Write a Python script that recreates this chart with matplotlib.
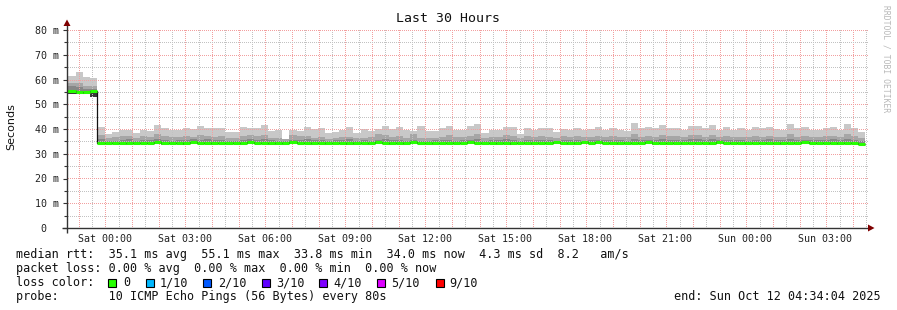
import numpy as np
import matplotlib
matplotlib.use("Agg")
import matplotlib.pyplot as plt
from matplotlib.patches import Polygon, Rectangle
from matplotlib.colors import to_rgba

# ---------------- data (ms) ----------------
# time axis: hours relative to Sat 00:00
t_start = -(1 + 25 / 60 + 56 / 3600)      # Fri 22:34:04
t_end = t_start + 30.0                    # Sun 04:34:04
step_h = 16 / 60                          # consolidation step
t_switch = -17.4 / 60                     # level change time

tick_hours = [0, 3, 6, 9, 12, 15, 18, 21, 24, 27]
tick_labels = ["Sat 00:00", "Sat 03:00", "Sat 06:00", "Sat 09:00", "Sat 12:00",
               "Sat 15:00", "Sat 18:00", "Sat 21:00", "Sun 00:00", "Sun 03:00"]
y_ticks = [0, 10, 20, 30, 40, 50, 60, 70, 80]
y_labels = ["0  ", "10 m", "20 m", "30 m", "40 m", "50 m", "60 m", "70 m", "80 m"]

median_ms = [55.2, 55.0, 55.0, 55.4,
             34.3, 34.3, 34.4, 34.4, 34.4, 34.3, 34.5, 34.4, 34.6, 34.4, 34.3, 34.4, 34.4, 34.6, 34.4, 34.4,
             34.3, 34.4, 34.5, 34.4, 34.4, 34.6, 34.4,
             34.4, 34.2, 34.3, 34.3, 34.7, 34.4, 34.5, 34.4, 34.4, 34.3, 34.5, 34.4, 34.4, 34.3, 34.4, 34.3,
             34.6, 34.5, 34.4, 34.4, 34.3, 34.7, 34.4, 34.4, 34.4, 34.3, 34.5, 34.4, 34.4,
             34.6, 34.5, 34.4, 34.5, 34.3, 34.4, 34.3, 34.5, 34.4, 34.3, 34.4, 34.4, 34.6, 34.4, 34.4, 34.3,
             34.7, 34.4, 34.6, 34.4, 34.5, 34.4, 34.4, 34.4, 34.5, 34.6, 34.3, 34.4, 34.5,
             34.5, 34.3, 34.4, 34.5, 34.4, 34.3, 34.6, 34.4, 34.4, 34.4, 34.3, 34.4, 34.5, 34.4, 34.4, 34.3,
             34.5, 34.4, 34.6, 34.4, 34.5, 34.4, 34.5, 34.4, 34.4, 34.5, 34.0]

ping_min = [54.3, 54.3, 54.2, 52.8,
            33.8, 33.7, 33.8, 33.8, 33.7, 33.8, 33.8, 33.8, 33.9, 33.7, 33.8, 33.8, 33.7, 33.9, 33.8, 33.8,
            33.7, 33.8, 33.8, 33.8, 33.7, 33.9, 33.8,
            33.8, 33.6, 33.7, 33.7, 33.8, 33.8, 33.8, 33.7, 33.8, 33.7, 33.8, 33.8, 33.7, 33.7, 33.8, 33.7,
            33.8, 33.8, 33.7, 33.8, 33.7, 33.8, 33.8, 33.8, 33.7, 33.7, 33.8, 33.8, 33.8,
            33.9, 33.8, 33.8, 33.8, 33.7, 33.8, 33.7, 33.8, 33.8, 33.7, 33.8, 33.8, 33.8, 33.8, 33.7, 33.7,
            33.8, 33.8, 33.8, 33.8, 33.8, 33.7, 33.8, 33.8, 33.8, 33.8, 33.7, 33.8, 33.8,
            33.8, 33.7, 33.8, 33.8, 33.8, 33.7, 33.8, 33.8, 33.8, 33.8, 33.7, 33.8, 33.8, 33.8, 33.8, 33.7,
            33.8, 33.8, 33.8, 33.8, 33.8, 33.8, 33.8, 33.7, 33.8, 33.8, 33.6]

ping_q2 = [57.2, 56.9, 56.0, 56.3,
           35.8, 35.2, 35.3, 35.6, 35.9, 35.2, 35.6, 35.4, 36.0, 35.6, 35.3, 35.5, 35.4, 35.8, 35.5, 35.9,
           35.4, 35.6, 35.3, 35.2, 35.6, 35.8, 35.5,
           35.9, 35.4, 35.3, 35.0, 35.7, 35.5, 35.8, 35.4, 35.5, 35.2, 35.4, 35.6, 35.8, 35.2, 35.4, 35.3,
           35.5, 35.9, 35.4, 35.6, 35.3, 35.7, 35.3, 35.3, 35.5, 35.6, 35.4, 35.3, 35.5,
           35.6, 35.8, 35.2, 35.6, 35.5, 35.9, 35.7, 35.1, 35.6, 35.4, 35.6, 35.5, 35.3, 35.5, 35.4, 35.6,
           35.3, 35.5, 35.7, 35.4, 35.6, 35.5, 35.3, 36.0, 35.5, 35.7, 35.5, 35.8, 35.4,
           35.6, 35.4, 35.9, 35.8, 35.5, 35.9, 35.4, 35.6, 35.5, 35.4, 35.3, 35.7, 35.5, 35.8, 35.4, 35.5,
           36.0, 35.6, 35.7, 35.4, 35.5, 35.6, 35.8, 35.5, 36.0, 35.6, 35.1]

ping_q3 = [58.7, 58.5, 57.4, 57.4,
           37.4, 36.2, 36.6, 37.0, 37.2, 36.4, 37.0, 36.8, 38.0, 37.2, 36.8, 36.9, 37.2, 36.9, 37.6, 37.2,
           36.9, 37.0, 36.5, 36.4, 37.2, 37.4, 37.0,
           37.6, 36.2, 36.2, 35.8, 37.6, 37.2, 37.2, 36.2, 36.9, 35.8, 36.2, 36.9, 36.6, 36.2, 36.2, 36.9,
           38.0, 37.6, 36.9, 37.2, 36.2, 38.0, 36.2, 36.2, 36.2, 36.9, 37.6, 36.9, 36.9,
           37.2, 37.8, 36.4, 36.9, 36.6, 37.4, 37.2, 36.2, 37.0, 36.8, 37.0, 36.9, 36.4, 37.0, 36.6, 37.0,
           36.6, 36.8, 37.2, 36.6, 37.0, 36.8, 36.6, 37.9, 36.9, 37.2, 36.9, 37.6, 37.0,
           37.0, 36.8, 37.4, 37.6, 36.9, 37.6, 36.6, 37.2, 36.8, 36.9, 36.6, 37.2, 36.9, 37.2, 36.8, 36.6,
           37.9, 36.9, 37.2, 36.6, 36.8, 37.0, 37.2, 36.8, 37.8, 37.0, 36.2]

ping_max = [61.5, 63.0, 61.0, 60.8,
            40.9, 38.0, 38.8, 39.6, 39.6, 38.4, 39.6, 39.2, 41.6, 40.5, 39.6, 39.6, 40.3, 39.8, 41.2, 40.6,
            40.3, 40.3, 38.9, 38.9, 40.9, 40.5, 40.5,
            41.6, 39.2, 39.6, 36.0, 39.6, 39.2, 40.7, 40.0, 40.3, 38.5, 38.8, 39.6, 40.7, 38.5, 40.0, 39.3,
            40.0, 41.2, 40.1, 40.9, 39.6, 39.2, 41.2, 39.0, 39.0, 40.3, 41.2, 39.6, 39.6,
            41.2, 42.0, 38.2, 39.6, 39.6, 40.7, 40.7, 37.9, 40.3, 39.6, 40.3, 40.3, 38.9, 40.0, 39.6, 40.3,
            39.6, 40.0, 40.7, 39.6, 40.3, 39.6, 39.2, 42.6, 40.3, 40.7, 40.3, 41.6, 40.3,
            40.3, 39.6, 41.2, 41.2, 40.3, 41.6, 39.6, 40.7, 39.6, 40.3, 39.6, 40.7, 40.3, 40.9, 39.9, 39.6,
            42.0, 40.3, 40.7, 39.6, 39.6, 40.3, 40.7, 39.6, 42.0, 40.3, 38.7]

core_top = [54.7, 54.6, 54.5, 55.0,
            33.8, 33.7, 33.8, 33.8, 33.7, 34.0, 33.8, 33.8, 33.9, 33.7, 33.8, 33.8, 34.1, 33.9, 33.8, 33.8,
            33.7, 33.8, 33.8, 34.0, 33.7, 33.9, 33.8,
            33.8, 33.6, 33.7, 33.7, 34.2, 33.8, 33.8, 33.7, 34.0, 33.7, 33.8, 33.8, 34.1, 33.7, 33.8, 33.7,
            33.8, 34.1, 33.7, 33.8, 33.7, 34.3, 33.8, 33.8, 33.7, 33.7, 34.1, 33.8, 33.8,
            33.9, 34.1, 33.8, 33.8, 33.7, 33.8, 34.0, 33.8, 33.8, 33.7, 33.8, 33.8, 34.1, 33.8, 33.7, 33.7,
            34.2, 33.8, 34.1, 33.8, 33.8, 33.7, 33.8, 33.8, 34.1, 34.1, 33.7, 33.8, 33.8,
            34.0, 33.7, 33.8, 33.8, 34.0, 33.7, 34.1, 33.8, 33.8, 33.8, 33.7, 33.8, 33.8, 34.0, 33.8, 33.7,
            34.0, 33.8, 34.2, 33.8, 33.8, 33.8, 33.8, 33.7, 34.0, 33.8, 33.9]

stats_line = "median rtt:  35.1 ms avg  55.1 ms max  33.8 ms min  34.0 ms now  4.3 ms sd  8.2   am/s"
loss_line = "packet loss: 0.00 % avg  0.00 % max  0.00 % min  0.00 % now"
loss_labels = ["0", "1/10", "2/10", "3/10", "4/10", "5/10", "9/10"]
loss_colors = ["#26ff00", "#00b8ff", "#0059ff", "#5e00ff", "#7e00ff", "#dd00ff", "#ff0000"]
probe_line = "probe:       10 ICMP Echo Pings (56 Bytes) every 80s"
end_line = "end: Sun Oct 12 04:34:04 2025"
title = "Last 30 Hours"
y_title = "Seconds"

# ---------------- figure ----------------
W, H = 897, 310
MONO = "DejaVu Sans Mono"
fig = plt.figure(figsize=(W / 100, H / 100), dpi=100)
fig.patch.set_facecolor("white")


def fx(x):
    return x / W


def fy(y):
    return 1 - y / H


AX_W, AX_H = 800, 198
ax = fig.add_axes([fx(67), fy(228), AX_W / W, AX_H / H])
ax.set_facecolor("white")
for s in ax.spines.values():
    s.set_visible(False)

n = len(median_ms)
edges = t_switch + step_h * np.arange(-4, n - 4 + 1)
edges[0] = t_start
left = edges[:-1]
width = np.diff(edges)

med = np.array(median_ms)
lo = np.array(ping_min)
q2 = np.array(ping_q2)
q3 = np.array(ping_q3)
hi = np.array(ping_max)
core = np.array(core_top)

ax.bar(left, hi - lo, bottom=lo, width=width, align="edge", color="#c8c8c8", lw=0, zorder=2)
ax.bar(left, q3 - lo, bottom=lo, width=width, align="edge", color="#a6a6a6", lw=0, zorder=2.1)
ax.bar(left, q2 - lo, bottom=lo, width=width, align="edge", color="#878787", lw=0, zorder=2.2)
ax.bar(left, core - lo, bottom=lo, width=width, align="edge", color="#3a3a3a", lw=0, zorder=2.3)

# dotted grid overlay (1 px dots every 2 px) as a pixel-exact image over the smoke
grid_img = np.zeros((AX_H, AX_W, 4))
gray = to_rgba("#c2c2c2")
red = to_rgba("#f2a0a0")


def col_of(h):
    return int(round((h - t_start) / (t_end - t_start) * AX_W))


def row_of(v):
    return int(round((80 - v) / 80 * AX_H))


for h in np.arange(np.ceil(t_start * 2) / 2, t_end, 0.5):
    c = min(col_of(h), AX_W - 1)
    colr = red if abs(h - round(h)) < 1e-6 else gray
    grid_img[0::2, c] = colr
for v in range(5, 81, 5):
    r = min(row_of(v), AX_H - 1)
    colr = red if v % 10 == 0 else gray
    grid_img[r, 1::2] = colr

ax.imshow(grid_img, extent=(t_start, t_end, 0, 80), origin="upper", aspect="auto",
          interpolation="nearest", zorder=3)
ax.set_xlim(t_start, t_end)
ax.set_ylim(0, 80)

# median line: dark connectors + green (loss 0) segments
ax.stairs(med, edges, color="#111111", lw=0.9, zorder=4, baseline=None)
ax.hlines(med, edges[:-1], edges[1:], color="#26ff00", lw=2.2, zorder=5, capstyle="butt")

# axes lines
ax.plot([-5 / AX_W, 804 / AX_W], [0, 0], transform=ax.transAxes, color="#333333", lw=1.0,
        clip_on=False, zorder=6, solid_capstyle="butt")
ax.plot([0, 0], [-5 / AX_H, 206 / AX_H], transform=ax.transAxes, color="#333333", lw=1.0,
        clip_on=False, zorder=6, solid_capstyle="butt")

# ticks
ax.set_xticks(tick_hours)
ax.set_xticklabels(tick_labels, fontfamily=MONO, fontsize=7.2, color="#222222")
ax.tick_params(axis="x", length=0, pad=4)
ax.set_yticks(y_ticks)
ax.set_yticklabels(y_labels, fontfamily=MONO, fontsize=7.2, color="#222222")
ax.set_yticks(range(5, 80, 10), minor=True)
ax.tick_params(axis="y", which="major", length=3, width=0.8, color="#333333", pad=3)
ax.tick_params(axis="y", which="minor", length=2, width=0.8, color="#333333")
ax.tick_params(axis="x", which="minor", length=0)

# arrows
fig.patches.append(Polygon([(fx(63.5), fy(26)), (fx(70.5), fy(26)), (fx(67), fy(19.5))],
                           closed=True, transform=fig.transFigure, color="#7f0000", lw=0))
fig.patches.append(Polygon([(fx(868), fy(224.5)), (fx(868), fy(231.5)), (fx(874.5), fy(228))],
                           closed=True, transform=fig.transFigure, color="#7f0000", lw=0))

# texts
fig.text(fx(448), fy(19), title, ha="center", va="center", fontfamily=MONO, fontsize=9.5, color="#111111")
fig.text(fx(11), fy(127), y_title, ha="center", va="center", rotation=90, fontsize=8, color="#111111")
fig.text(fx(886), fy(5), "RRDTOOL / TOBI OETIKER", ha="center", va="top", rotation=270,
         fontfamily=MONO, fontsize=5.8, color="#b8b8b8")

fig.text(fx(16), fy(254.5), stats_line, ha="left", va="center", fontfamily=MONO, fontsize=8.5, color="#111111")
fig.text(fx(16), fy(268.5), loss_line, ha="left", va="center", fontfamily=MONO, fontsize=8.5, color="#111111")
fig.text(fx(16), fy(282.5), "loss color:", ha="left", va="center", fontfamily=MONO, fontsize=8.5, color="#111111")
box_x = [108, 146, 203, 261.5, 318.5, 376.5, 435.5]
label_x = [123, 160, 218, 276, 333, 391, 449]
for bx, lx, lab, col in zip(box_x, label_x, loss_labels, loss_colors):
    fig.patches.append(Rectangle((fx(bx), fy(286.5)), 8 / W, 8 / H, transform=fig.transFigure,
                                 facecolor=col, edgecolor="#000000", lw=0.8))
    fig.text(fx(lx), fy(282.5), lab, ha="left", va="center", fontfamily=MONO, fontsize=8.5, color="#111111")
fig.text(fx(16), fy(296.5), probe_line, ha="left", va="center", fontfamily=MONO, fontsize=8.5, color="#111111")
fig.text(fx(881), fy(296.5), end_line, ha="right", va="center", fontfamily=MONO, fontsize=8.5, color="#111111")

fig.savefig("out.png", dpi=100, facecolor="white")
